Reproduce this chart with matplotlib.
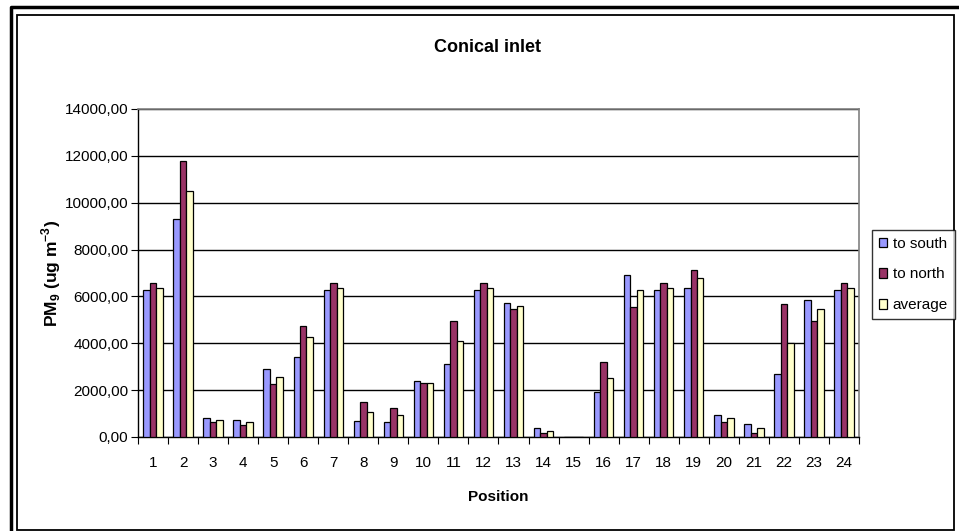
import matplotlib.pyplot as plt
import numpy as np
from matplotlib.lines import Line2D
from matplotlib.patches import Rectangle

plt.rcParams['font.family'] = ['Liberation Sans', 'DejaVu Sans']
plt.rcParams['mathtext.fontset'] = 'custom'
plt.rcParams['mathtext.rm'] = 'Liberation Sans'
plt.rcParams['mathtext.bf'] = 'Liberation Sans:bold'

positions = [str(i) for i in range(1, 25)]
to_south = [6270, 9300, 800, 740, 2890, 3430, 6270, 680, 630, 2390, 3120, 6270,
            5710, 390, 0, 1900, 6920, 6270, 6380, 930, 540, 2690, 5830, 6270]
to_north = [6570, 11800, 630, 500, 2250, 4730, 6570, 1480, 1250, 2320, 4930, 6570,
            5470, 190, 0, 3190, 5530, 6570, 7120, 630, 160, 5670, 4970, 6570]
average = [6380, 10510, 740, 630, 2580, 4270, 6380, 1050, 940, 2320, 4090, 6380,
           5580, 240, 0, 2500, 6270, 6380, 6770, 810, 390, 4030, 5470, 6380]
yticks = [0, 2000, 4000, 6000, 8000, 10000, 12000, 14000]

W, H = 959, 531
fig = plt.figure(figsize=(W / 100, H / 100), dpi=100)
ax = fig.add_axes([138 / W, 1 - 437 / H, (859 - 138) / W, (437 - 109) / H])

x = np.arange(len(positions))
bw = 0.215
series = [(to_south, '#9999FF', 'to south'),
          (to_north, '#993366', 'to north'),
          (average, '#FFFFCC', 'average')]
for i, (vals, col, lab) in enumerate(series):
    ax.bar(x + (i - 1) * bw, vals, bw, color=col, edgecolor='black',
           linewidth=0.9, label=lab, zorder=3)

ax.set_xlim(-0.5, len(positions) - 0.5)
ax.set_ylim(0, 14000)
ax.set_yticks(yticks)
ax.set_yticklabels([f'{v:.2f}'.replace('.', ',') for v in yticks], fontsize=11)
ax.yaxis.grid(True, color='black', linewidth=1, zorder=0)
ax.set_axisbelow(True)

ax.set_xticks(np.arange(-0.5, len(positions)), labels=[])
ax.set_xticks(x, labels=positions, minor=True)
ax.tick_params(axis='x', which='major', length=5, direction='out', color='black')
ax.tick_params(axis='x', which='minor', length=0, pad=14, labelsize=11)
ax.tick_params(axis='y', length=5, direction='out', pad=2)

for s in ['top', 'right']:
    ax.spines[s].set_color('#808080')
    ax.spines[s].set_linewidth(1.2)
for s in ['left', 'bottom']:
    ax.spines[s].set_color('black')
    ax.spines[s].set_linewidth(1)

ax.set_xlabel('Position', fontsize=11, fontweight='bold', labelpad=14)
ax.set_ylabel(r'PM$_\mathbf{9}$ (ug m$^\mathbf{-3}$)', fontsize=12.5,
              fontweight='bold', labelpad=1)
fig.text(487 / W, 1 - 47 / H, 'Conical inlet', fontsize=13, fontweight='bold',
         ha='center', va='center')

leg = fig.legend(loc='center left', bbox_to_anchor=(872 / W, 1 - 274.5 / H),
                 fontsize=11, frameon=True, fancybox=False, handlelength=0.55,
                 handleheight=0.55, handletextpad=0.35, labelspacing=1.1,
                 borderpad=0.45, borderaxespad=0)
leg.get_frame().set_edgecolor('black')
leg.get_frame().set_linewidth(1)

# chart frame
fig.add_artist(Line2D([11 / W, 11 / W, 1], [0, 1 - 7 / H, 1 - 7 / H],
                      transform=fig.transFigure, color='black', linewidth=2.5))
fig.add_artist(Rectangle((17 / W, 1 - 530 / H), (954 - 17) / W, (530 - 15) / H,
                         transform=fig.transFigure, fill=False,
                         edgecolor='black', linewidth=1.3))

fig.savefig('out.png', dpi=100)
